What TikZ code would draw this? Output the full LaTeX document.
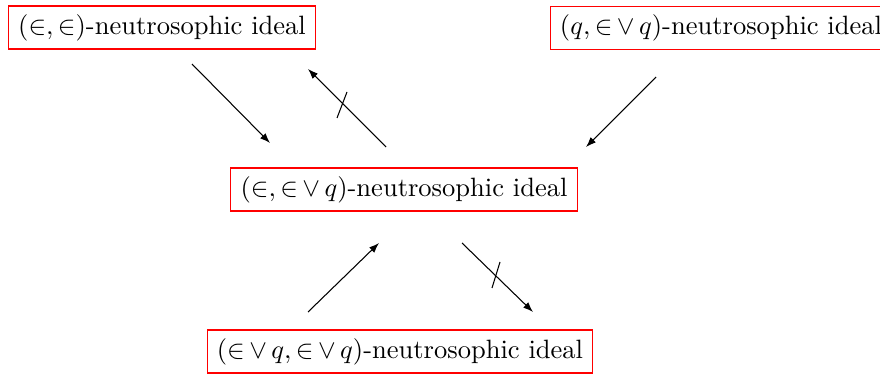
\documentclass[tikz,border=0pt]{standalone}
\usetikzlibrary{arrows.meta}
\newcommand{\evq}{{\in}\mskip\thinmuskip{\vee}\mskip\thinmuskip q}
\begin{document}
\begin{tikzpicture}[x=0.377pt,y=-0.377pt,
  box/.style={draw=red, line width=0.4pt, inner xsep=3.7pt, inner ysep=3.1pt, text height=7.5pt, text depth=2.5pt},
  arr/.style={line width=0.4pt, -{Latex[length=3.8pt,width=2.8pt]}},
  neg/.style={line width=0.4pt}]
\useasboundingbox (0,0) rectangle (880,374);
\node[box] (ee) at (162,27.5) {$(\in,\in)$-neutrosophic ideal};
\node[box] (qeq) at (721,28) {$(q,\evq)$-neutrosophic ideal};
\node[box] (eeq) at (404,189.5) {$(\in,\evq)$-neutrosophic ideal};
\node[box] (eqeq) at (400,351.5) {$(\evq,\evq)$-neutrosophic ideal};
% arrow endpoints
\coordinate (a1s) at (192,64);
\coordinate (a1e) at (270,143);
\coordinate (a2s) at (386,147);
\coordinate (a2e) at (308,69);
\coordinate (a3s) at (656,77);
\coordinate (a3e) at (586,147);
\coordinate (a4s) at (308,312);
\coordinate (a4e) at (379,243);
\coordinate (a5s) at (462,243);
\coordinate (a5e) at (533,312);
\coordinate (n2a) at (337,118);
\coordinate (n2b) at (347,92);
\coordinate (n5a) at (500,262);
\coordinate (n5b) at (492,288);
\draw[arr] (a1s) -- (a1e);
\draw[arr] (a2s) -- (a2e);
\draw[arr] (a3s) -- (a3e);
\draw[arr] (a4s) -- (a4e);
\draw[arr] (a5s) -- (a5e);
\draw[neg] (n2a) -- (n2b);
\draw[neg] (n5a) -- (n5b);
\end{tikzpicture}
\end{document}
